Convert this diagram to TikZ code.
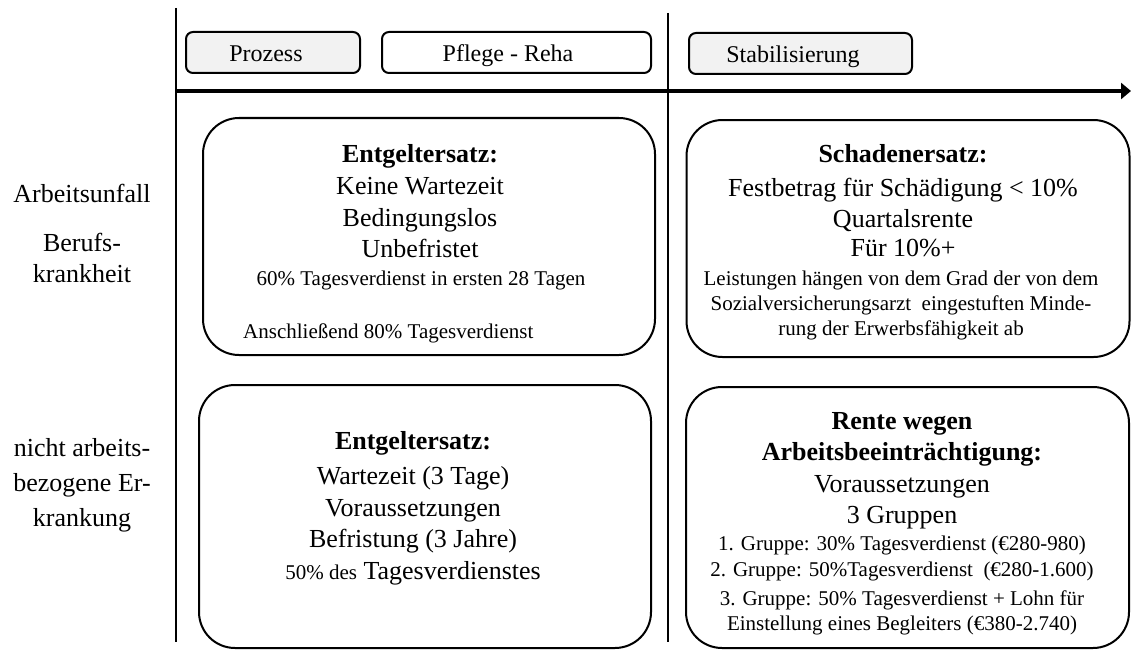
\documentclass[tikz,border=0pt]{standalone}
\usepackage{fontspec}
\setmainfont{Liberation Serif}
\usetikzlibrary{arrows.meta}
\definecolor{boxgray}{HTML}{F2F2F2}
\tikzset{
  bigbox/.style={draw=black, line width=2pt, rounded corners=36pt, inner sep=0pt, outer sep=0pt},
  topbox/.style={draw=black, line width=2pt, rounded corners=7pt, inner sep=0pt, outer sep=0pt, minimum height=41pt},
  grayfill/.style={fill=boxgray},
  tline/.style={inner sep=0pt, anchor=base},
  tbig/.style={tline, font=\fontsize{26}{30}\selectfont},
  thead/.style={tline, font=\fontsize{26}{30}\selectfont\bfseries},
  tsmall/.style={tline, font=\fontsize{21}{25}\selectfont},
  ttop/.style={tline, font=\fontsize{24}{28}\selectfont},
  sepline/.style={line width=1.8pt},
}
\begin{document}
\begin{tikzpicture}[x=1pt,y=-1pt]
\useasboundingbox (0,0) rectangle (1131,650);
% frame lines
\coordinate (ltop) at (176,8);
\coordinate (lbot) at (176,642);
\coordinate (mtop) at (668,13);
\coordinate (mbot) at (668,642);
\coordinate (astart) at (176,91);
\coordinate (aend) at (1131,91);
\draw[sepline] (ltop) -- (lbot);
\draw[sepline] (mtop) -- (mbot);
\draw[line width=4.5pt, -{Triangle[length=10pt,width=16pt]}] (astart) -- (aend);

% top boxes
\node[topbox, grayfill, minimum width=174pt] (prozess) at (273,52.5) {};
\node[ttop] (prozessT) at (266,61.5) {Prozess};
\node[topbox, minimum width=269pt] (pflege) at (516.5,52.5) {};
\node[ttop] (pflegeT) at (508,61.5) {Pflege - Reha};
\node[topbox, grayfill, minimum width=223pt] (stab) at (800.5,53.5) {};
\node[ttop] (stabT) at (793,62.5) {Stabilisierung};

% row labels
\node[tbig] (lA) at (82,202) {Arbeitsunfall};
\node[tbig] (lB) at (82,251) {Berufs-};
\node[tbig] (lC) at (82,282) {krankheit};
\node[tbig] (lD) at (82,456) {nicht arbeits-};
\node[tbig] (lE) at (82,491) {bezogene Er-};
\node[tbig] (lF) at (82,526) {krankung};

% row 1 left
\node[bigbox, minimum width=452pt, minimum height=237pt] (b11) at (429,236.5) {};
\node[thead] (b11a) at (420,162) {Entgeltersatz:};
\node[tbig] (b11b) at (420,194) {Keine Wartezeit};
\node[tbig] (b11c) at (420,226) {Bedingungslos};
\node[tbig] (b11d) at (420,257) {Unbefristet};
\node[tsmall] (b11e) at (421,285.5) {60\% Tagesverdienst in ersten 28 Tagen};
\node[tsmall, anchor=base west] (b11f) at (243,338.5) {Anschließend 80\% Tagesverdienst};

% row 1 right
\node[bigbox, minimum width=443pt, minimum height=237pt] (b12) at (908,238.5) {};
\node[thead] (b12a) at (903,162) {Schadenersatz:};
\node[tbig] (b12b) at (903,196) {Festbetrag für Schädigung < 10\%};
\node[tbig] (b12c) at (903,227) {Quartalsrente};
\node[tbig] (b12d) at (903,256) {Für 10\%+};
\node[tsmall] (b12e) at (901,285.5) {Leistungen hängen von dem Grad der von dem};
\node[tsmall] (b12f) at (901,310.5) {Sozialversicherungsarzt\ \ eingestuften Minde-};
\node[tsmall] (b12g) at (901,335.5) {rung der Erwerbsfähigkeit ab};

% row 2 left
\node[bigbox, minimum width=452pt, minimum height=263pt] (b21) at (425,516.5) {};
\node[thead] (b21a) at (413,449) {Entgeltersatz:};
\node[tbig] (b21b) at (413,484) {Wartezeit (3 Tage)};
\node[tbig] (b21c) at (413,516) {Voraussetzungen};
\node[tbig] (b21d) at (413,547) {Befristung (3 Jahre)};
\node[tbig] (b21e) at (413,579) {{\fontsize{21}{25}\selectfont 50\% des} Tagesverdienstes};

% row 2 right
\node[bigbox, minimum width=443pt, minimum height=261pt] (b22) at (907.5,517.5) {};
\node[thead] (b22a) at (902,429) {Rente wegen};
\node[thead] (b22b) at (902,460) {Arbeitsbeeinträchtigung:};
\node[tbig] (b22c) at (902,492) {Voraussetzungen};
\node[tbig] (b22d) at (902,523) {3 Gruppen};
\node[tsmall] (b22e) at (902,550.5) {1. Gruppe: 30\% Tagesverdienst (€280-980)};
\node[tsmall] (b22f) at (902,576.5) {2. Gruppe: 50\%Tagesverdienst\ \ (€280-1.600)};
\node[tsmall] (b22g) at (902,605.5) {3. Gruppe: 50\% Tagesverdienst + Lohn für};
\node[tsmall] (b22h) at (902,630.5) {Einstellung eines Begleiters (€380-2.740)};
\end{tikzpicture}
\end{document}
